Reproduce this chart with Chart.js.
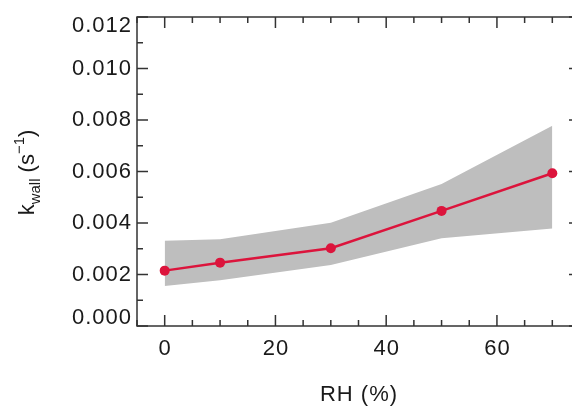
<!DOCTYPE html>
<html>
<head>
<meta charset="utf-8">
<script src="https://cdn.jsdelivr.net/npm/chart.js@4/dist/chart.umd.min.js"></script>
<style>
  html, body { margin: 0; padding: 0; background: #fff; overflow: hidden; }
  #wrap { width: 600px; height: 407px; }
</style>
</head>
<body>
<div id="wrap"><canvas id="myChart" width="600" height="407"></canvas></div>
<script>
// Data
const rh = [0, 10, 30, 50, 70];
const kWall = [0.00215, 0.00246, 0.00302, 0.00447, 0.00593];
const kUpper = [0.00331, 0.00337, 0.00401, 0.00551, 0.00778];
const kLower = [0.00155, 0.00178, 0.00237, 0.00341, 0.00379];

const xTicks = [0, 20, 40, 60];
const xMinor = [-5, 5, 10, 15, 25, 30, 35, 45, 50, 55, 65, 70, 75];
const yTicks = [0.000, 0.002, 0.004, 0.006, 0.008, 0.010, 0.012];
const yMinor = [0.001, 0.003, 0.005, 0.007, 0.009, 0.011];

const FONT = '"Liberation Sans", Arial, sans-serif';
const INK = '#1a1a1a';

function pts(ys) {
    return rh.map((x, i) => ({ x: x, y: ys[i] }));
}

// Draws the frame, inward ticks, tick labels and axis titles
const axesPlugin = {
    id: 'axesPlugin',
    afterDraw(chart) {
        const ctx = chart.ctx;
        const a = chart.chartArea;
        const xs = chart.scales.x;
        const ys = chart.scales.y;
        ctx.save();
        ctx.strokeStyle = '#333';
        ctx.lineWidth = 1.5;
        ctx.strokeRect(a.left, a.top, a.right - a.left, a.bottom - a.top);

        ctx.beginPath();
        xTicks.forEach(v => {
            const px = xs.getPixelForValue(v);
            ctx.moveTo(px, a.bottom); ctx.lineTo(px, a.bottom - 11);
            ctx.moveTo(px, a.top); ctx.lineTo(px, a.top + 11);
        });
        xMinor.forEach(v => {
            const px = xs.getPixelForValue(v);
            ctx.moveTo(px, a.bottom); ctx.lineTo(px, a.bottom - 6);
            ctx.moveTo(px, a.top); ctx.lineTo(px, a.top + 6);
        });
        yTicks.forEach(v => {
            const py = ys.getPixelForValue(v);
            ctx.moveTo(a.left, py); ctx.lineTo(a.left + 11, py);
            ctx.moveTo(a.right, py); ctx.lineTo(a.right - 11, py);
        });
        yMinor.forEach(v => {
            const py = ys.getPixelForValue(v);
            ctx.moveTo(a.left, py); ctx.lineTo(a.left + 6, py);
            ctx.moveTo(a.right, py); ctx.lineTo(a.right - 6, py);
        });
        ctx.stroke();

        // tick labels
        ctx.fillStyle = INK;
        ctx.font = '22px ' + FONT;
        ctx.letterSpacing = '1px';
        ctx.textAlign = 'center';
        ctx.textBaseline = 'middle';
        xTicks.forEach(v => {
            ctx.fillText(String(v), xs.getPixelForValue(v) + 0.5, a.bottom + 23);
        });
        ctx.textAlign = 'right';
        yTicks.forEach(v => {
            let py = ys.getPixelForValue(v);
            // keep the end labels inside the frame like the original
            py = Math.min(Math.max(py, a.top + 9), a.bottom - 8);
            ctx.fillText(v.toFixed(3), 132, py);
        });

        // x title
        ctx.textAlign = 'center';
        ctx.fillText('RH (%)', 359, 395);
        ctx.letterSpacing = '0px';

        // y title: k_wall (s^-1)
        ctx.translate(34, (a.top + a.bottom) / 2 + 1);
        ctx.rotate(-Math.PI / 2);
        ctx.textAlign = 'left';
        ctx.textBaseline = 'alphabetic';
        const parts = [
            { t: 'k', f: '22px ', dy: 0 },
            { t: 'wall', f: '15px ', dy: 6 },
            { t: ' (s', f: '22px ', dy: 0 },
            { t: '\u22121', f: '15px ', dy: -10 },
            { t: ')', f: '22px ', dy: 0 }
        ];
        let total = 0;
        parts.forEach(p => { ctx.font = p.f + FONT; p.w = ctx.measureText(p.t).width; total += p.w; });
        let x = -total / 2;
        parts.forEach(p => {
            ctx.font = p.f + FONT;
            ctx.fillText(p.t, x, p.dy);
            x += p.w;
        });
        ctx.restore();
    }
};

const ctx = document.getElementById('myChart').getContext('2d');
const myChart = new Chart(ctx, {
    type: 'line',
    data: {
        datasets: [
            {
                label: 'k_wall',
                data: pts(kWall),
                borderColor: '#dc143c',
                backgroundColor: '#dc143c',
                borderWidth: 2.5,
                pointRadius: 5,
                pointBorderWidth: 0,
                fill: false,
                order: 0
            },
            {
                label: 'upper',
                data: pts(kUpper),
                borderWidth: 0,
                pointRadius: 0,
                backgroundColor: '#bebebe',
                fill: '+1',
                order: 1
            },
            {
                label: 'lower',
                data: pts(kLower),
                borderWidth: 0,
                pointRadius: 0,
                backgroundColor: '#bebebe',
                fill: false,
                order: 2
            }
        ]
    },
    options: {
        responsive: false,
        animation: false,
        layout: { padding: { left: 137, top: 17, right: 20, bottom: 81 } },
        plugins: {
            legend: { display: false },
            tooltip: { enabled: false }
        },
        scales: {
            x: { type: 'linear', min: -5, max: 75, display: false },
            y: { type: 'linear', min: 0, max: 0.012, display: false }
        }
    },
    plugins: [axesPlugin]
});
</script>
</body>
</html>
